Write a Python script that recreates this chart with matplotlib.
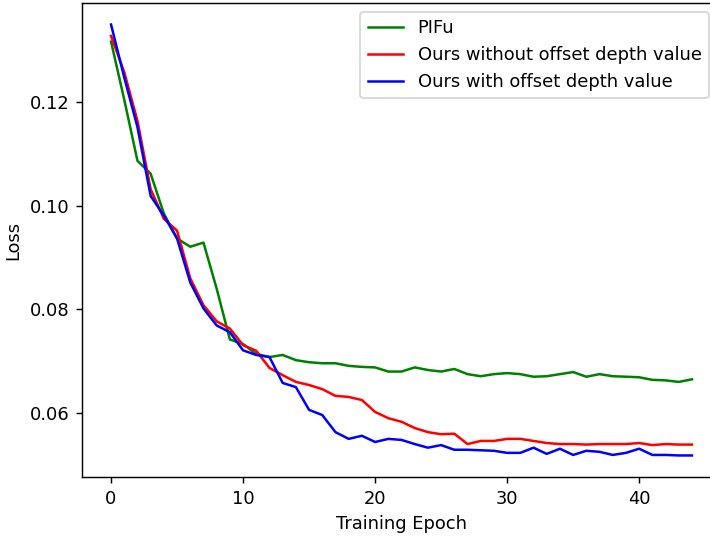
import numpy as np
import matplotlib
matplotlib.use("Agg")
import matplotlib.pyplot as plt

# loss per training epoch
epochs = np.arange(45)
pifu = [0.1317, 0.1205, 0.1087, 0.1062, 0.0985, 0.0937, 0.0921, 0.0929, 0.0840, 0.0742,
        0.0733, 0.0714, 0.0708, 0.0712, 0.0702, 0.0698, 0.0696, 0.0696, 0.0691, 0.0689,
        0.0688, 0.0680, 0.0680, 0.0688, 0.0683, 0.0680, 0.0685, 0.0675, 0.0671, 0.0675,
        0.0677, 0.0675, 0.0670, 0.0671, 0.0675, 0.0679, 0.0670, 0.0675, 0.0671, 0.0670,
        0.0669, 0.0664, 0.0663, 0.0660, 0.0665]
no_offset = [0.1328, 0.1258, 0.1164, 0.1032, 0.0975, 0.0952, 0.0860, 0.0808, 0.0777, 0.0763,
             0.0731, 0.0720, 0.0687, 0.0673, 0.0660, 0.0654, 0.0646, 0.0633, 0.0631, 0.0625,
             0.0602, 0.0590, 0.0583, 0.0571, 0.0563, 0.0559, 0.0560, 0.0540, 0.0546, 0.0546,
             0.0550, 0.0550, 0.0546, 0.0542, 0.0540, 0.0540, 0.0539, 0.0540, 0.0540, 0.0540,
             0.0542, 0.0538, 0.0540, 0.0539, 0.0539]
with_offset = [0.1350, 0.1248, 0.1152, 0.1019, 0.0981, 0.0937, 0.0852, 0.0802, 0.0769, 0.0756,
               0.0721, 0.0712, 0.0708, 0.0658, 0.0650, 0.0606, 0.0596, 0.0563, 0.0550, 0.0556,
               0.0544, 0.0550, 0.0548, 0.0540, 0.0533, 0.0538, 0.0529, 0.0529, 0.0528, 0.0527,
               0.0523, 0.0523, 0.0533, 0.0521, 0.0531, 0.0519, 0.0527, 0.0525, 0.0519, 0.0523,
               0.0531, 0.0519, 0.0519, 0.0518, 0.0518]

DPI = 129
fig = plt.figure(figsize=(710 / DPI, 539 / DPI), dpi=DPI)
# axes runs past the right edge of the canvas, as in the cropped reference
ax = fig.add_axes([82 / 710, 62 / 539, 639 / 710, 474 / 539])

ax.plot(epochs, pifu, color="green", label="PIFu", lw=1.4)
ax.plot(epochs, no_offset, color="red", label="Ours without offset depth value", lw=1.4)
ax.plot(epochs, with_offset, color="blue", label="Ours with offset depth value", lw=1.4)

ax.set_xlabel("Training Epoch")
ax.set_ylabel("Loss")
ax.set_xticks([0, 10, 20, 30, 40])
ax.set_yticks([0.06, 0.08, 0.10, 0.12])
ax.legend(loc="upper right", bbox_to_anchor=(0.995, 1.0))

fig.savefig("out.png", dpi=DPI)
